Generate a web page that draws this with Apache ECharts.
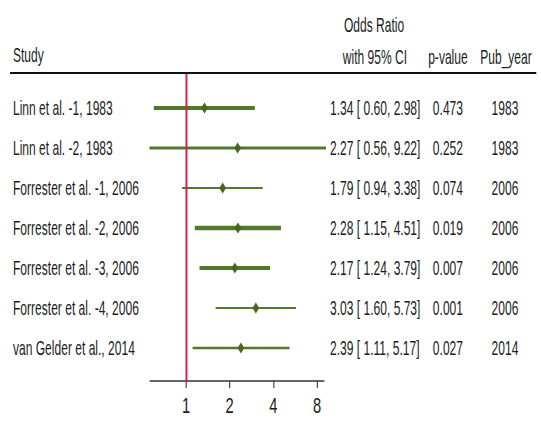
<!DOCTYPE html>
<html>
<head>
<meta charset="utf-8">
<script src="https://cdn.jsdelivr.net/npm/echarts@6/dist/echarts.min.js"></script>
<style>
html,body{margin:0;padding:0;overflow:hidden;background:#fff;width:541px;height:424px;}
#chart{width:808px;height:424px;transform:scaleX(0.66955);transform-origin:0 0;}
</style>
</head>
<body>
<div id="chart"></div>
<script>
const studies = ['Linn et al. -1, 1983', 'Linn et al. -2, 1983', 'Forrester et al. -1, 2006', 'Forrester et al. -2, 2006', 'Forrester et al. -3, 2006', 'Forrester et al. -4, 2006', 'van Gelder et al., 2014'];
const oddsRatio = [1.34, 2.27, 1.79, 2.28, 2.17, 3.03, 2.39];
const ciLower = [0.60, 0.56, 0.94, 1.15, 1.24, 1.60, 1.11];
const ciUpper = [2.98, 9.22, 3.38, 4.51, 3.79, 5.73, 5.17];
const pValues = ['0.473', '0.252', '0.074', '0.019', '0.007', '0.001', '0.027'];
const pubYears = ['1983', '1983', '2006', '2006', '2006', '2006', '2014'];
const studyWeights = [8, 6, 4, 9, 8, 4, 5];
const xTicks = [1, 2, 4, 8];

const FONT = '"Liberation Sans", Arial, sans-serif';
const TXT = '#1c1c1c';
const GREEN = '#52782a';
const FS = 20, SX = 0.9;

const rows = studies.map((s, i) => i + 1);
const ciData = studies.map((s, i) => [ciLower[i], ciUpper[i], rows[i], studyWeights[i]]);
const pointData = studies.map((s, i) => [oddsRatio[i], rows[i]]);
const textData = studies.map((s, i) => [1, rows[i]]);

function fmt(v) { return v.toFixed(2); }
function txt(x, y, text, align) {
  return {type: 'text', x: x, y: y, scaleX: SX,
    style: {text: text, fontSize: FS, fontFamily: FONT, fill: TXT, align: align, verticalAlign: 'middle'}};
}

const chart = echarts.init(document.getElementById('chart'), null, {renderer: 'svg'});
chart.setOption({
  animation: false,
  grid: {left: 224, width: 260, top: 74, height: 307, containLabel: false},
  xAxis: {
    type: 'log', logBase: 2, min: 0.5646, max: 8.94,
    splitLine: {show: false},
    axisLine: {show: true, onZero: false, lineStyle: {color: '#333', width: 1.5}},
    axisTick: {show: true, customValues: xTicks, length: 7, lineStyle: {color: '#333', width: 1.6}},
    axisLabel: {show: true, customValues: xTicks, margin: 13, fontSize: 22, fontFamily: FONT, color: TXT,
      formatter: v => String(Math.round(v))}
  },
  yAxis: {type: 'value', inverse: true, min: 0.15, max: 7.825, show: false},
  graphic: [
    {type: 'line', shape: {x1: 15, y1: 73, x2: 801, y2: 73}, style: {stroke: '#111', lineWidth: 2.2}},
    txt(19.4, 55, 'Study', 'left'),
    txt(558.6, 25, 'Odds Ratio', 'center'),
    txt(560, 57, 'with 95% CI', 'center'),
    txt(669, 57, 'p-value', 'center'),
    txt(755.7, 57, 'Pub_year', 'center')
  ],
  series: [
    {
      type: 'custom', clip: false, z: 3,
      data: ciData,
      encode: {x: [0, 1], y: 2},
      renderItem: function (params, api) {
        const p1 = api.coord([api.value(0), api.value(2)]);
        const p2 = api.coord([api.value(1), api.value(2)]);
        return {type: 'line', shape: {x1: p1[0], y1: p1[1], x2: p2[0], y2: p2[1]},
          style: {stroke: GREEN, lineWidth: api.value(3) / 2}};
      }
    },
    {
      type: 'scatter', z: 4,
      data: pointData,
      symbol: 'diamond', symbolSize: [10, 11],
      itemStyle: {color: '#43691f', opacity: 1},
      markLine: {
        silent: true, symbol: 'none', label: {show: false},
        lineStyle: {color: '#d7234f', width: 3, type: 'solid'},
        data: [{xAxis: 1}]
      }
    },
    {
      type: 'custom', clip: false, z: 2,
      data: textData,
      encode: {x: 0, y: 1},
      renderItem: function (params, api) {
        const i = params.dataIndex;
        const y = api.coord([1, api.value(1)])[1];
        return {type: 'group', children: [
          txt(19.4, y, studies[i], 'left'),
          txt(492.9, y, fmt(oddsRatio[i]) + ' [ ' + fmt(ciLower[i]) + ', ' + fmt(ciUpper[i]) + ']', 'left'),
          txt(669, y, pValues[i], 'center'),
          txt(754.2, y, pubYears[i], 'center')
        ]};
      }
    }
  ]
});
</script>
</body>
</html>
